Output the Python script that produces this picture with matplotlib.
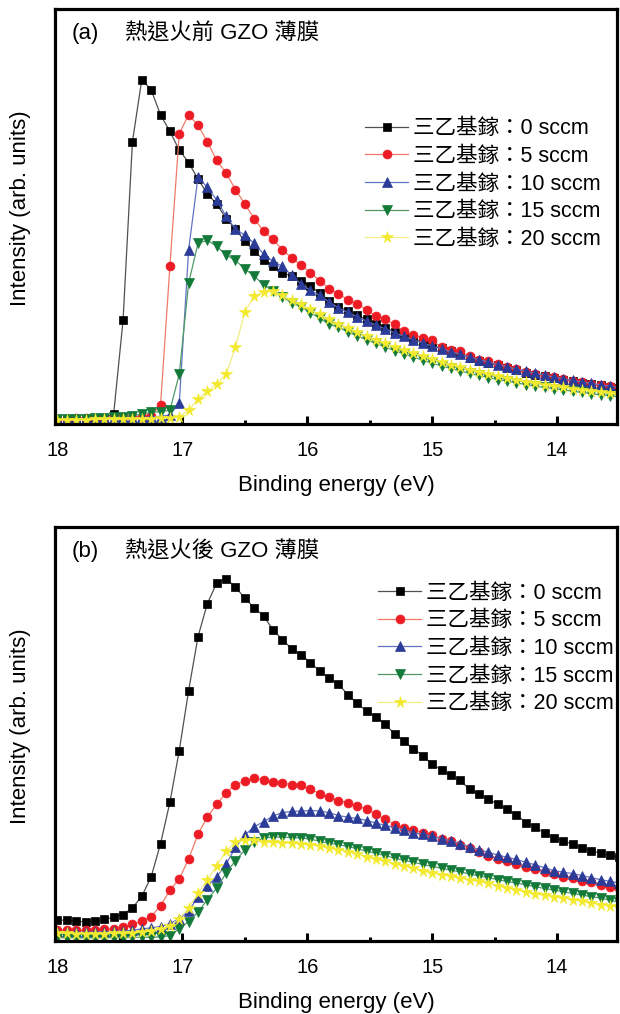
import numpy as np
import matplotlib
matplotlib.use("Agg")
import matplotlib.pyplot as plt
from matplotlib.ticker import MultipleLocator

plt.rcParams['font.family'] = ['Liberation Sans', 'Noto Sans CJK TC', 'DejaVu Sans']

# binding energy grid (eV)
energy = [18.0, 17.925, 17.85, 17.775, 17.7, 17.625, 17.55, 17.475, 17.4, 17.325,
          17.25, 17.175, 17.1, 17.025, 16.95, 16.875, 16.8, 16.725, 16.65, 16.575,
          16.5, 16.425, 16.35, 16.275, 16.2, 16.125, 16.05, 15.975, 15.9, 15.825,
          15.75, 15.675, 15.6, 15.525, 15.45, 15.375, 15.3, 15.225, 15.15, 15.075,
          15.0, 14.925, 14.85, 14.775, 14.7, 14.625, 14.55, 14.475, 14.4, 14.325,
          14.25, 14.175, 14.1, 14.025, 13.95, 13.875, 13.8, 13.725, 13.65, 13.575,
          13.5]

labels = ['三乙基鎵：0 sccm', '三乙基鎵：5 sccm', '三乙基鎵：10 sccm',
          '三乙基鎵：15 sccm', '三乙基鎵：20 sccm']

# (a) before annealing
a_0 = [1.2, 1.2, 1.3, 1.3, 1.4, 1.5, 2.5, 25, 68, 83,
       80.5, 74.5, 70.5, 66, 63, 59, 55.5, 53, 49.5, 47,
       44, 41.7, 39.5, 38, 36.5, 35.6, 34.5, 33.2, 31.5, 29.7,
       28.3, 27.2, 26.2, 25.2, 24.2, 23.2, 22.2, 21.3, 20.5, 19.7,
       19, 18.2, 17.5, 16.8, 16.0, 15.3, 14.7, 14.1, 13.5, 13.0,
       12.4, 11.9, 11.5, 11.1, 10.7, 10.3, 10.0, 9.6, 9.3, 9.0,
       8.7]
a_5 = [1.3, 1.3, 1.4, 1.4, 1.5, 1.5, 1.6, 1.6, 1.7, 1.8,
       2.0, 4.5, 38, 70, 74.5, 72, 68, 63.5, 60.5, 56.5,
       53, 49.5, 46.5, 44.5, 42, 40, 38.3, 36.5, 34.5, 32.6,
       31.3, 30, 28.9, 27.5, 26, 25.2, 24, 22.3, 21.5, 20.7,
       20.2, 18.5, 17.8, 17.6, 16.3, 15.5, 15.1, 14.4, 13.8, 13.2,
       12.5, 12, 11.6, 11.3, 10.8, 10.4, 10.1, 9.7, 9.3, 9.1,
       8.8]
a_10 = [1.2, 1.2, 1.3, 1.3, 1.3, 1.4, 1.4, 1.5, 1.5, 1.6,
        1.7, 1.8, 2.2, 5, 42, 59.5, 57, 54, 50, 47,
        45.5, 43.5, 41, 39.2, 38, 35.8, 33.7, 32.2, 31, 29.4,
        28, 26.9, 25.8, 24.8, 23.8, 22.9, 22.0, 21.1, 20.3, 19.5,
        18.8, 18.1, 17.4, 16.8, 16.1, 15.5, 14.9, 14.3, 13.8, 13.2,
        12.7, 12.2, 11.8, 11.3, 10.9, 10.5, 10.1, 9.8, 9.4, 9.1,
        8.8]
a_15 = [1.2, 1.2, 1.3, 1.3, 1.4, 1.5, 1.6, 1.8, 2.0, 2.4,
        2.8, 3.0, 3.3, 12, 34, 43.5, 44.3, 42.8, 40.8, 39.4,
        37.4, 35.6, 33.6, 32.0, 30.7, 29.2, 28.3, 26.8, 25.5, 24.0,
        23.3, 22.2, 21.2, 20.3, 19.4, 18.5, 17.7, 16.9, 16.1, 15.4,
        14.6, 14, 13.4, 12.8, 12.2, 11.7, 11.2, 10.7, 10.3, 9.9,
        9.5, 9.1, 8.8, 8.5, 8.2, 7.9, 7.6, 7.3, 7.0, 6.8,
        6.5]
a_20 = [1.0, 1.0, 1.0, 1.0, 1.1, 1.1, 1.1, 1.2, 1.2, 1.3,
        1.3, 1.4, 1.5, 1.8, 3.3, 6.0, 7.9, 9.6, 12.0, 18.5,
        27, 30.8, 31.8, 32, 31, 29.8, 28.8, 27.6, 26.4, 25.2,
        24.2, 23.2, 22.2, 21.2, 20.3, 19.4, 18.6, 17.8, 17.0, 16.3,
        15.6, 14.9, 14.3, 13.7, 13.1, 12.5, 12.0, 11.5, 11.0, 10.6,
        10.2, 9.8, 9.4, 9.1, 8.8, 8.5, 8.2, 7.9, 7.6, 7.4,
        7.1]

# (b) after annealing
b_0 = [5.1, 5.0, 4.8, 4.6, 4.8, 5.2, 5.7, 6.4, 8.0, 10.8,
       15.5, 23.5, 33.5, 46, 60.5, 73.5, 81.5, 86.5, 87.5, 85.5,
       82.8, 80.5, 78.5, 75.2, 72.8, 70.6, 69.2, 67.2, 65.2, 63.5,
       62, 59.5, 57.4, 55.5, 54.2, 52.3, 50, 48.2, 46.4, 44.8,
       42.7, 41.3, 40.0, 38.8, 36.6, 35.5, 34.3, 33.0, 31.8, 30.5,
       28.6, 27.6, 26, 25, 24.2, 23.4, 22.5, 21.8, 21.2, 20.7,
       20.2]
b_5 = [2.7, 2.7, 2.6, 2.6, 2.7, 2.8, 3.0, 3.3, 4.0, 4.8,
       5.9, 8.5, 12.3, 15, 19.8, 25.8, 30, 33.0, 35.8, 37.8,
       38.6, 39.3, 39.0, 38.3, 38.1, 37.8, 37.6, 36.7, 35.6, 34.7,
       33.9, 33.4, 32.7, 31.8, 30.6, 29.4, 28.1, 27.3, 26.8, 26.2,
       25.5, 24.7, 24.1, 23.3, 22.4, 21.6, 20.6, 19.9, 19.4, 18.7,
       17.8, 17.4, 16.6, 16.1, 15.5, 15.1, 14.6, 14.2, 13.5, 13.0,
       12.7]
b_10 = [2.2, 2.2, 2.1, 2.1, 2.2, 2.2, 2.3, 2.4, 2.6, 2.9,
        3.2, 3.5, 4.2, 5.4, 7.2, 10.7, 13.3, 15.5, 18.6, 22.6,
        25.6, 27.6, 28.8, 30.2, 31.0, 31.3, 31.4, 31.5, 31.4, 31.0,
        30.3, 29.9, 29.6, 29.1, 28.5, 27.9, 27.4, 26.8, 26.1, 25.8,
        25.3, 24.7, 24.2, 23.5, 22.8, 22.1, 21.4, 20.8, 20.2, 19.7,
        19.0, 18.4, 17.7, 17.0, 16.6, 16.3, 15.8, 15.3, 14.8, 14.4,
        14.0]
b_15 = [0.8, 0.8, 0.8, 0.7, 0.8, 0.8, 0.8, 0.8, 0.9, 0.9,
        0.9, 1.0, 1.3, 3.0, 4.7, 7.0, 10.0, 12.8, 16.4, 19.4,
        22.0, 23.9, 24.9, 25.1, 25.1, 25.0, 24.9, 24.6, 24.1, 23.6,
        23.3, 22.8, 22.3, 21.7, 21.2, 20.6, 20.0, 19.5, 19.0, 18.5,
        18.0, 17.6, 17.1, 16.7, 16.2, 15.7, 15.3, 14.8, 14.4, 14.0,
        13.6, 13.1, 12.7, 12.3, 11.9, 11.5, 11.1, 10.7, 10.4, 9.8,
        9.4]
b_20 = [1.9, 1.9, 1.8, 1.8, 1.8, 1.8, 1.9, 1.9, 2.0, 2.2,
        2.5, 2.9, 3.6, 5.4, 8.0, 11.5, 14.7, 18.2, 21.7, 23.8,
        24.4, 24.3, 23.9, 23.8, 23.7, 23.6, 23.5, 23.3, 22.9, 22.5,
        22.1, 21.6, 21.0, 20.4, 19.8, 19.3, 18.7, 18.1, 17.6, 17.0,
        16.5, 16.0, 15.6, 15.2, 14.8, 14.4, 13.9, 13.4, 12.9, 12.4,
        11.9, 11.4, 11.0, 10.7, 10.4, 10.0, 9.6, 9.2, 8.8, 8.5,
        8.2]

marker_colors = ['#000000', '#ed1c24', '#2b3b98', '#137a3a', '#f3ea30']
line_colors = ['#505050', '#f27a68', '#6373c4', '#4f9a66', '#f2ec86']
markers = ['s', 'o', '^', 'v', '*']
msizes = [5.5, 6.4, 7.0, 7.0, 8.5]


def draw_panel(ax, series, tag, title, leg_xy):
    for k, y in enumerate(series):
        ax.plot(energy, y, color=line_colors[k], lw=0.9, marker=markers[k],
                ms=msizes[k], mfc=marker_colors[k], mec=marker_colors[k],
                mew=0.5, label=labels[k])
    ax.set_xlim(18.02, 13.52)
    ax.set_ylim(0, 100)
    ax.xaxis.set_major_locator(MultipleLocator(1))
    ax.xaxis.set_minor_locator(MultipleLocator(0.5))
    ax.tick_params(axis='x', which='major', direction='in', length=6, width=2.2,
                   labelsize=14.5, pad=12)
    ax.tick_params(axis='x', which='minor', direction='in', length=3, width=2.2)
    ax.set_yticks([])
    for s in ax.spines.values():
        s.set_linewidth(2.3)
    ax.set_xlabel('Binding energy (eV)', fontsize=16, labelpad=11)
    ax.set_ylabel('Intensity (arb. units)', fontsize=16)
    ax.yaxis.set_label_coords(-0.042, 0.52)
    ax.text(0.03, 0.94, tag, transform=ax.transAxes, fontsize=16, va='center')
    ax.text(0.125, 0.94, title, transform=ax.transAxes, fontsize=16, va='center')
    ax.legend(loc='upper left', bbox_to_anchor=leg_xy, frameon=False,
              fontsize=15.5, handlelength=2.0, handletextpad=0.2,
              labelspacing=0.31, borderpad=0, borderaxespad=0)


fig = plt.figure(figsize=(6.2, 10.14), dpi=100)
ax1 = fig.add_axes([55 / 620, 1 - 424 / 1014, 562 / 620, 415 / 1014])
ax2 = fig.add_axes([55 / 620, 1 - 941 / 1014, 562 / 620, 414 / 1014])

draw_panel(ax1, [a_0, a_5, a_10, a_15, a_20], '(a)', '熱退火前 GZO 薄膜', (0.552, 0.737))
draw_panel(ax2, [b_0, b_5, b_10, b_15, b_20], '(b)', '熱退火後 GZO 薄膜', (0.575, 0.866))

fig.savefig('out.png', dpi=100)
